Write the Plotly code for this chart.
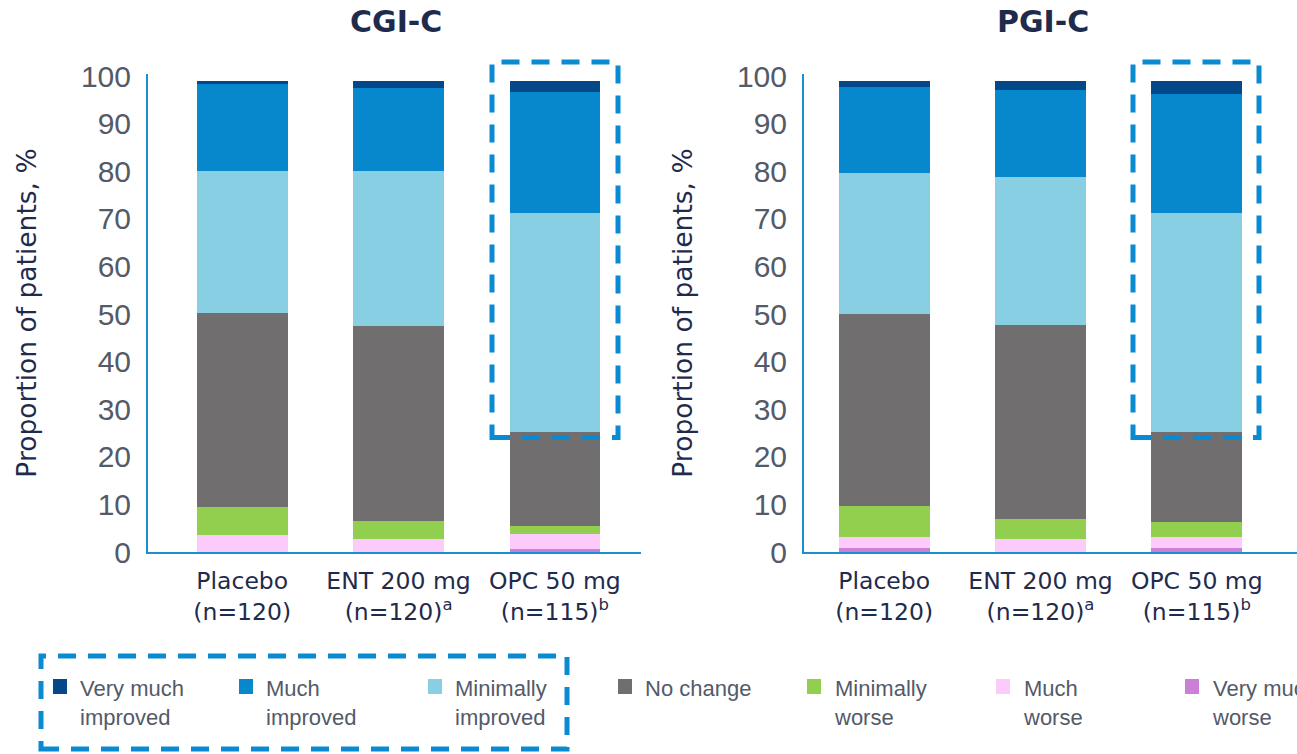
import plotly.graph_objects as go

# ---------------- data ----------------
groups = ["Placebo<br>(n=120)", "ENT 200 mg<br>(n=120)<sup>a</sup>", "OPC 50 mg<br>(n=115)<sup>b</sup>"]
series_names = ["Very much worse", "Much worse", "Minimally worse", "No change",
                "Minimally improved", "Much improved", "Very much improved"]

cgi_very_much_worse = [0.0, 0.0, 0.7]
cgi_much_worse = [3.5, 2.7, 3.0]
cgi_minimally_worse = [5.9, 3.9, 1.8]
cgi_no_change = [40.8, 40.9, 19.7]
cgi_minimally_improved = [29.8, 32.5, 46.0]
cgi_much_improved = [18.3, 17.4, 25.4]
cgi_very_much_improved = [0.6, 1.5, 2.3]

pgi_very_much_worse = [0.9, 0.0, 0.8]
pgi_much_worse = [2.3, 2.7, 2.4]
pgi_minimally_worse = [6.5, 4.2, 3.2]
pgi_no_change = [40.3, 40.8, 18.8]
pgi_minimally_improved = [29.6, 31.1, 46.0]
pgi_much_improved = [18.1, 18.3, 25.1]
pgi_very_much_improved = [1.2, 1.8, 2.6]

panel_titles = ["CGI-C", "PGI-C"]
y_title = "Proportion of patients, %"
y_ticks = [0, 10, 20, 30, 40, 50, 60, 70, 80, 90, 100]

legend_order = ["Very much improved", "Much improved", "Minimally improved", "No change",
                "Minimally worse", "Much worse", "Very much worse"]
legend_labels = ["Very much<br>improved", "Much<br>improved", "Minimally<br>improved", "No change",
                 "Minimally<br>worse", "Much<br>worse", "Very much<br>worse"]

# ---------------- styles ----------------
colors = {
    "Very much improved": "#05488a",
    "Much improved": "#0788cd",
    "Minimally improved": "#88cfe4",
    "No change": "#716e6f",
    "Minimally worse": "#93cf4f",
    "Much worse": "#fccafb",
    "Very much worse": "#cb80d5",
}
AXIS_BLUE = "#1b8ed6"
BOX_BLUE = "#0a8ad0"
NAVY = "#1f2b4d"
GRAY = "#535a68"

W, H = 1297, 754
def px(x):
    return x / W
def py(y):
    return 1 - y / H

cgi = [cgi_very_much_worse, cgi_much_worse, cgi_minimally_worse, cgi_no_change,
       cgi_minimally_improved, cgi_much_improved, cgi_very_much_improved]
pgi = [pgi_very_much_worse, pgi_much_worse, pgi_minimally_worse, pgi_no_change,
       pgi_minimally_improved, pgi_much_improved, pgi_very_much_improved]

fig = go.Figure()
for panel, (xa, ya) in zip([cgi, pgi], [("x", "y"), ("x2", "y2")]):
    for name, vals in zip(series_names, panel):
        fig.add_trace(go.Bar(
            x=groups, y=vals, name=name, xaxis=xa, yaxis=ya,
            marker=dict(color=colors[name], line=dict(width=0)),
            width=0.58, showlegend=False,
        ))

tick_font = dict(family="DejaVu Sans", size=23.5, color=NAVY)
ytick_font = dict(family="Liberation Sans, Arial", size=30, color=GRAY)
title_font = dict(family="DejaVu Sans", size=26.5, color=NAVY)

y_top = (552 - 74) / 4.76
common_y = dict(range=[0, y_top], tickvals=y_ticks, showgrid=False, zeroline=False,
                showline=True, linecolor=AXIS_BLUE, linewidth=2, ticks="",
                tickfont=ytick_font, ticklabelstandoff=9, automargin=False,
                domain=[py(552), py(74)],
                title=dict(text=y_title, font=title_font, standoff=37))
common_x = dict(showgrid=False, zeroline=False, showline=True, linecolor=AXIS_BLUE,
                linewidth=2, ticks="", tickfont=tick_font, ticklabelstandoff=7,
                automargin=False)

fig.update_layout(
    width=W, height=H, margin=dict(l=0, r=0, t=0, b=0, autoexpand=False),
    paper_bgcolor="white", plot_bgcolor="white", barmode="stack",
    xaxis=dict(domain=[px(148), px(641)], range=[-0.603, 2.551], anchor="y", **common_x),
    xaxis2=dict(domain=[px(804), px(1297)], range=[-0.513, 2.641], anchor="y2", **common_x),
    yaxis=dict(anchor="x", **common_y),
    yaxis2=dict(anchor="x2", **common_y),
    showlegend=False,
)

# panel titles
for t, cx in zip(panel_titles, [396, 1043]):
    fig.add_annotation(text=f"<b>{t}</b>", x=px(cx), y=py(22), xref="paper", yref="paper",
                       showarrow=False, xanchor="center", yanchor="middle",
                       font=dict(family="DejaVu Sans", size=30, color=NAVY))

# dashed highlight boxes
dash = "18px,12px"
for x0, x1, y0, y1 in [(492, 618, 62, 437.5), (1133, 1259, 62, 437.5), (41, 567, 656, 749)]:
    fig.add_shape(type="rect", xref="paper", yref="paper",
                  x0=px(x0), x1=px(x1), y0=py(y1), y1=py(y0),
                  line=dict(color=BOX_BLUE, width=5, dash=dash), fillcolor="rgba(0,0,0,0)")

# manual legend
legend_text_x = [78, 264, 453, 643, 832, 1021, 1210]
for name, label, tx in zip(legend_order, legend_labels, legend_text_x):
    fig.add_shape(type="rect", xref="paper", yref="paper",
                  x0=px(tx - 25), x1=px(tx - 11), y0=py(694), y1=py(679),
                  line=dict(width=0), fillcolor=colors[name])
    fig.add_annotation(text=label, x=px(tx), y=py(674), xref="paper", yref="paper",
                       showarrow=False, xanchor="left", yanchor="top", align="left",
                       font=dict(family="Liberation Sans, Arial", size=22, color=GRAY))

fig.write_html("out.html")
